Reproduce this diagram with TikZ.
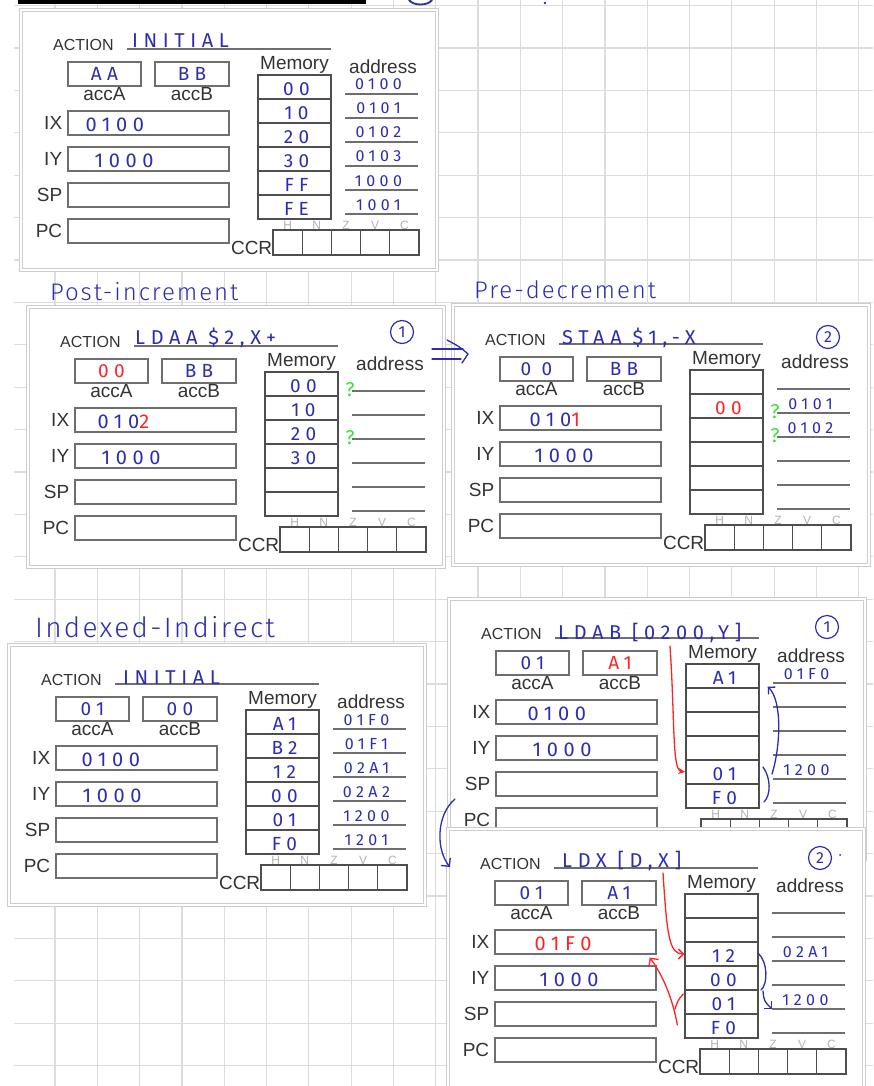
\documentclass[tikz,border=0pt]{standalone}
\usepackage{fontspec}
\setmainfont{Liberation Sans}
\newfontfamily\hand[LetterSpace=28]{Fira Sans}
\newfontfamily\handtitle[LetterSpace=8]{Fira Sans Light}
\usetikzlibrary{positioning,arrows.meta}
\definecolor{gridGray}{HTML}{DCDCDC}
\definecolor{frameGray}{HTML}{CDCDCD}
\definecolor{boxGray}{HTML}{6E6E6E}
\definecolor{cellGray}{HTML}{4E4E4E}
\definecolor{lblGray}{HTML}{333333}
\definecolor{flagGray}{HTML}{B2B2B2}
\definecolor{inkBlue}{HTML}{2D2DB2}
\definecolor{inkRed}{HTML}{FF2424}
\definecolor{inkGreen}{HTML}{3CE03C}

\tikzset{
  gridline/.style={draw=gridGray,line width=1.2pt},
  panelframe/.style={draw=frameGray,line width=0.8pt,double=white,double distance=2.4pt,fill=white},
  lbl/.style={text=lblGray,font=\fontsize{19}{20}\selectfont,inner sep=1pt},
  regbox/.style={draw=boxGray,line width=1.2pt,minimum height=24pt,inner sep=0pt},
  memcell/.style={draw=cellGray,line width=1.4pt,minimum width=73pt,minimum height=24pt,inner sep=0pt},
  ccrcell/.style={draw=cellGray,line width=1.2pt,minimum width=29.2pt,minimum height=25pt,inner sep=0pt},
  penline/.style={draw=boxGray,line width=1.1pt},
  flag/.style={text=flagGray,font=\fontsize{12}{12}\selectfont,inner sep=0pt},
  hv/.style={inner sep=0pt,text=inkBlue},
  opval/.style={hv,font=\hand\fontsize{20}{20}\selectfont},
  accval/.style={hv,font=\hand\fontsize{19}{19}\selectfont},
  regval/.style={hv,font=\hand\fontsize{20}{20}\selectfont},
  memval/.style={hv,font=\hand\fontsize{19}{19}\selectfont},
  addrval/.style={hv,font=\hand\fontsize{16}{16}\selectfont},
  qmark/.style={inner sep=0pt,text=inkGreen,font=\hand\fontsize{20}{20}\selectfont},
  stepno/.style={circle,draw=inkBlue,line width=1.2pt,minimum size=23pt,inner sep=0pt,text=inkBlue,font=\hand\fontsize{16}{16}\selectfont},
  titletext/.style={hv,font=\handtitle\fontsize{24}{24}\selectfont},
  bluepen/.style={draw=inkBlue,line width=1.3pt,line cap=round},
  redpen/.style={draw=inkRed,line width=1.3pt,line cap=round}
}

% empty register sheet, origin at its top left corner
\newcommand\cpupanel[1]{%
  \draw[panelframe] (0,0) rectangle (416,260);
  \node[lbl,font=\fontsize{16}{16}\selectfont,anchor=west] (#1-act) at (31,35) {ACTION};
  \draw[penline] (106,39) -- (310,39);
  \node[regbox,minimum width=73pt] (#1-A) at (83.5,64) {};
  \node[regbox,minimum width=74pt] (#1-B) at (171,64) {};
  \node[lbl,below=0pt of #1-A] (#1-Alab) {accA};
  \node[lbl,below=0pt of #1-B] (#1-Blab) {accB};
  \foreach \r/\y in {IX/113,IY/149,SP/185,PC/221}{
    \node[regbox,minimum width=161pt] (#1-\r) at (127.5,\y) {};
    \node[lbl,left=4pt of #1-\r] (#1-\r-lab) {\r};
  }
  \foreach \k in {1,...,6}{
    \node[memcell] (#1-m\k) at (273.5,53+24*\k) {};
    \draw[penline] (324,60+24*\k) coordinate (#1-dw\k) -- (397,60+24*\k);
    \coordinate (#1-d\k) at (360.5,60+24*\k);
  }
  \node[lbl,above=0pt of #1-m1] (#1-mem) {Memory};
  \node[lbl] (#1-addr) at (362,57) {address};
  \foreach \f [count=\i from 0] in {H,N,Z,V,C}{
    \node[ccrcell] (#1-c\i) at (266.6+29.2*\i,232.5) {};
    \node[flag,anchor=base] (#1-f\i) at (#1-c\i.north) {\f};
  }
  \node[lbl,anchor=base east,inner sep=0pt] (#1-ccr) at ([yshift=1pt]#1-c0.south west) {CCR};
}
\newcommand\putacc[3]{\node[accval,anchor=base] (#1-v#2) at ([yshift=6pt]#1-#2.south) {#3};}
\newcommand\putreg[4]{\node[regval,anchor=base west] (#1-v#2) at ([xshift=#3pt,yshift=4pt]#1-#2.south west) {#4};}
\newcommand\putmem[3]{\node[memval,anchor=base] (#1-vm#2) at ([xshift=2pt,yshift=4pt]#1-m#2.south) {#3};}
\newcommand\putaddr[3]{\node[addrval,anchor=base] (#1-vd#2) at ([xshift=-3pt,yshift=4pt]#1-d#2) {#3};}
\newcommand\putq[2]{\node[qmark,anchor=base] (#1-q#2) at ([xshift=-2pt,yshift=-5pt]#1-dw#2) {?};}

\begin{document}
\begin{tikzpicture}[x=1pt,y=-1pt]
  \useasboundingbox (0,0) rectangle (873,1086);
  \clip (0,0) rectangle (873,1086);
  \fill[white] (0,0) rectangle (873,1086);
  % squared paper
  \foreach \i in {1,...,20}
    \draw[gridline] ({12.7+42.3*\i},0) -- ({12.7+42.3*\i},1086);
  \foreach \j in {0,...,25}
    \draw[gridline] (14,{5.6+42.4*\j}) -- (873,{5.6+42.4*\j});
  % leftovers from the page above
  \fill[black] (18,0) rectangle (366,4);
  \draw[bluepen,line width=1.8pt] (409,0) .. controls (413,6) and (428,6) .. (432,0);
  \fill[inkBlue] (545,3) circle[radius=1.4pt];

  % initial state
  \begin{scope}[shift={(21,10)}]
    \cpupanel{p1}
    \node[opval,anchor=base west] (p1-op) at (111,38) {INITIAL};
    \putacc{p1}{A}{AA}
    \putacc{p1}{B}{BB}
    \putreg{p1}{IX}{18}{0100}
    \putreg{p1}{IY}{27}{1000}
    \putmem{p1}{1}{00}
    \putmem{p1}{2}{10}
    \putmem{p1}{3}{20}
    \putmem{p1}{4}{30}
    \putmem{p1}{5}{FF}
    \putmem{p1}{6}{FE}
    \putaddr{p1}{1}{0100}
    \putaddr{p1}{2}{0101}
    \putaddr{p1}{3}{0102}
    \putaddr{p1}{4}{0103}
    \putaddr{p1}{5}{1000}
    \putaddr{p1}{6}{1001}
  \end{scope}

  \node[titletext,anchor=base west] (t-post) at (50,300) {Post-increment};
  \node[titletext,anchor=base west] (t-pre) at (474,298) {Pre-decrement};

  % step 1: LDAA
  \begin{scope}[shift={(28,307)}]
    \cpupanel{p2}
    \node[opval,anchor=base west] (p2-op) at (107,37) {LDAA \$2,X+};
    \node[stepno] (p2-no) at (374,25) {1};
    \putacc{p2}{A}{\textcolor{inkRed}{00}}
    \putacc{p2}{B}{BB}
    \putreg{p2}{IX}{23}{010\textcolor{inkRed}{2}}
    \putreg{p2}{IY}{27}{1000}
    \putmem{p2}{1}{00}
    \putmem{p2}{2}{10}
    \putmem{p2}{3}{20}
    \putmem{p2}{4}{30}
    \putq{p2}{1}
    \putq{p2}{3}
  \end{scope}

  % step 2: STAA
  \begin{scope}[shift={(453,305)}]
    \cpupanel{p3}
    \node[opval,anchor=base west] (p3-op) at (109,39) {STAA \$1,-X};
    \node[stepno] (p3-no) at (375,32) {2};
    \putacc{p3}{A}{0 0}
    \putacc{p3}{B}{BB}
    \putreg{p3}{IX}{30}{010\textcolor{inkRed}{1}}
    \putreg{p3}{IY}{35}{1000}
    \putmem{p3}{2}{\textcolor{inkRed}{00}}
    \putaddr{p3}{2}{0101}
    \putaddr{p3}{3}{0102}
    \putq{p3}{2}
    \putq{p3}{3}
  \end{scope}

  \coordinate (stepA) at (432,354);
  \coordinate (stepB) at (468,354);
  \draw[bluepen] ([yshift=5pt]stepA) -- ([xshift=-5pt,yshift=5pt]stepB);
  \draw[bluepen] ([yshift=-5pt]stepA) -- ([xshift=-7pt,yshift=-5pt]stepB);
  \draw[bluepen] ([xshift=-21pt,yshift=14pt]stepB) .. controls ([xshift=-8pt,yshift=7pt]stepB) .. (stepB)
    .. controls ([xshift=-3pt,yshift=-5pt]stepB) .. ([xshift=-6pt,yshift=-9pt]stepB);

  \node[titletext,font=\handtitle\fontsize{28}{28}\selectfont,anchor=base west] (t-ind) at (35,637) {Indexed-Indirect};

  % indexed indirect, initial state
  \begin{scope}[shift={(9,645)}]
    \cpupanel{p4}
    \node[opval,anchor=base west] (p4-op) at (114,39) {INITIAL};
    \putacc{p4}{A}{01}
    \putacc{p4}{B}{00}
    \putreg{p4}{IX}{26}{0100}
    \putreg{p4}{IY}{27}{1000}
    \putmem{p4}{1}{A1}
    \putmem{p4}{2}{B2}
    \putmem{p4}{3}{12}
    \putmem{p4}{4}{00}
    \putmem{p4}{5}{01}
    \putmem{p4}{6}{F0}
    \putaddr{p4}{1}{01F0}
    \putaddr{p4}{2}{01F1}
    \putaddr{p4}{3}{02A1}
    \putaddr{p4}{4}{02A2}
    \putaddr{p4}{5}{1200}
    \putaddr{p4}{6}{1201}
  \end{scope}

  % step 1: LDAB
  \begin{scope}[shift={(449,599)}]
    \cpupanel{p5}
    \node[opval,anchor=base west] (p5-op) at (109,40) {LDAB [0200,Y]};
    \node[stepno] (p5-no) at (378,28) {1};
    \putacc{p5}{A}{01}
    \putacc{p5}{B}{\textcolor{inkRed}{A1}}
    \putreg{p5}{IX}{32}{0100}
    \putreg{p5}{IY}{37}{1000}
    \putmem{p5}{1}{A1}
    \putmem{p5}{5}{01}
    \putmem{p5}{6}{F0}
    \putaddr{p5}{1}{01F0}
    \putaddr{p5}{5}{1200}
  \end{scope}

  \coordinate (p5-ptr) at (670,646);
  \draw[redpen,-{Stealth[length=7pt,width=6pt]}] (p5-ptr) .. controls (675,720) and (672,770) .. (p5-m5.west);
  \draw[bluepen] (763,767) .. controls (771,778) and (771,795) .. (764,802);
  \coordinate (p5-brace) at (772,774);
  \draw[bluepen,-{Straight Barb[length=5pt]}] (p5-brace) .. controls (781,745) and (782,700) .. ([xshift=8pt,yshift=2pt]p5-m1.south east);

  \coordinate (hop) at (455,799);

  % step 2: LDX
  \begin{scope}[shift={(448,829)}]
    \cpupanel{p6}
    \node[opval,anchor=base west] (p6-op) at (114,38) {LDX [D,X]};
    \node[stepno] (p6-no) at (372,29) {2};
    \putacc{p6}{A}{01}
    \putacc{p6}{B}{A1}
    \putreg{p6}{IX}{40}{\textcolor{inkRed}{01F0}}
    \putreg{p6}{IY}{45}{1000}
    \putmem{p6}{3}{12}
    \putmem{p6}{4}{00}
    \putmem{p6}{5}{01}
    \putmem{p6}{6}{F0}
    \putaddr{p6}{3}{02A1}
    \putaddr{p6}{5}{1200}
  \end{scope}
  \fill[inkBlue] (840,855) circle[radius=1pt];

  \draw[bluepen,-{Straight Barb[length=6pt]}] (hop) .. controls (436,815) and (436,850) .. ([xshift=-29pt,yshift=-3pt]p6-act.west);

  \coordinate (p6-ptr) at (663,873);
  \draw[redpen,-{Straight Barb[length=5pt]}] (p6-ptr) .. controls (667,935) and (669,954) .. (p6-m3.west);
  \draw[redpen,-{Straight Barb[length=6pt]}] ([xshift=-7pt,yshift=1pt]p6-m6.west) .. controls (673,1000) and (663,975) .. ([xshift=-7pt,yshift=-3pt]p6-IX.south east);
  \draw[redpen] ([xshift=-1pt,yshift=8pt]p6-m5.west) .. controls (678,1000) .. (675,1009);
  \draw[bluepen] (758,953) .. controls (768,962) and (768,984) .. (761,990);
  \coordinate (p6-brace) at (763,991);
  \draw[bluepen,-{Straight Barb[length=5pt]}] (p6-brace) .. controls (764,1001) .. (p6-dw5);
\end{tikzpicture}
\end{document}
